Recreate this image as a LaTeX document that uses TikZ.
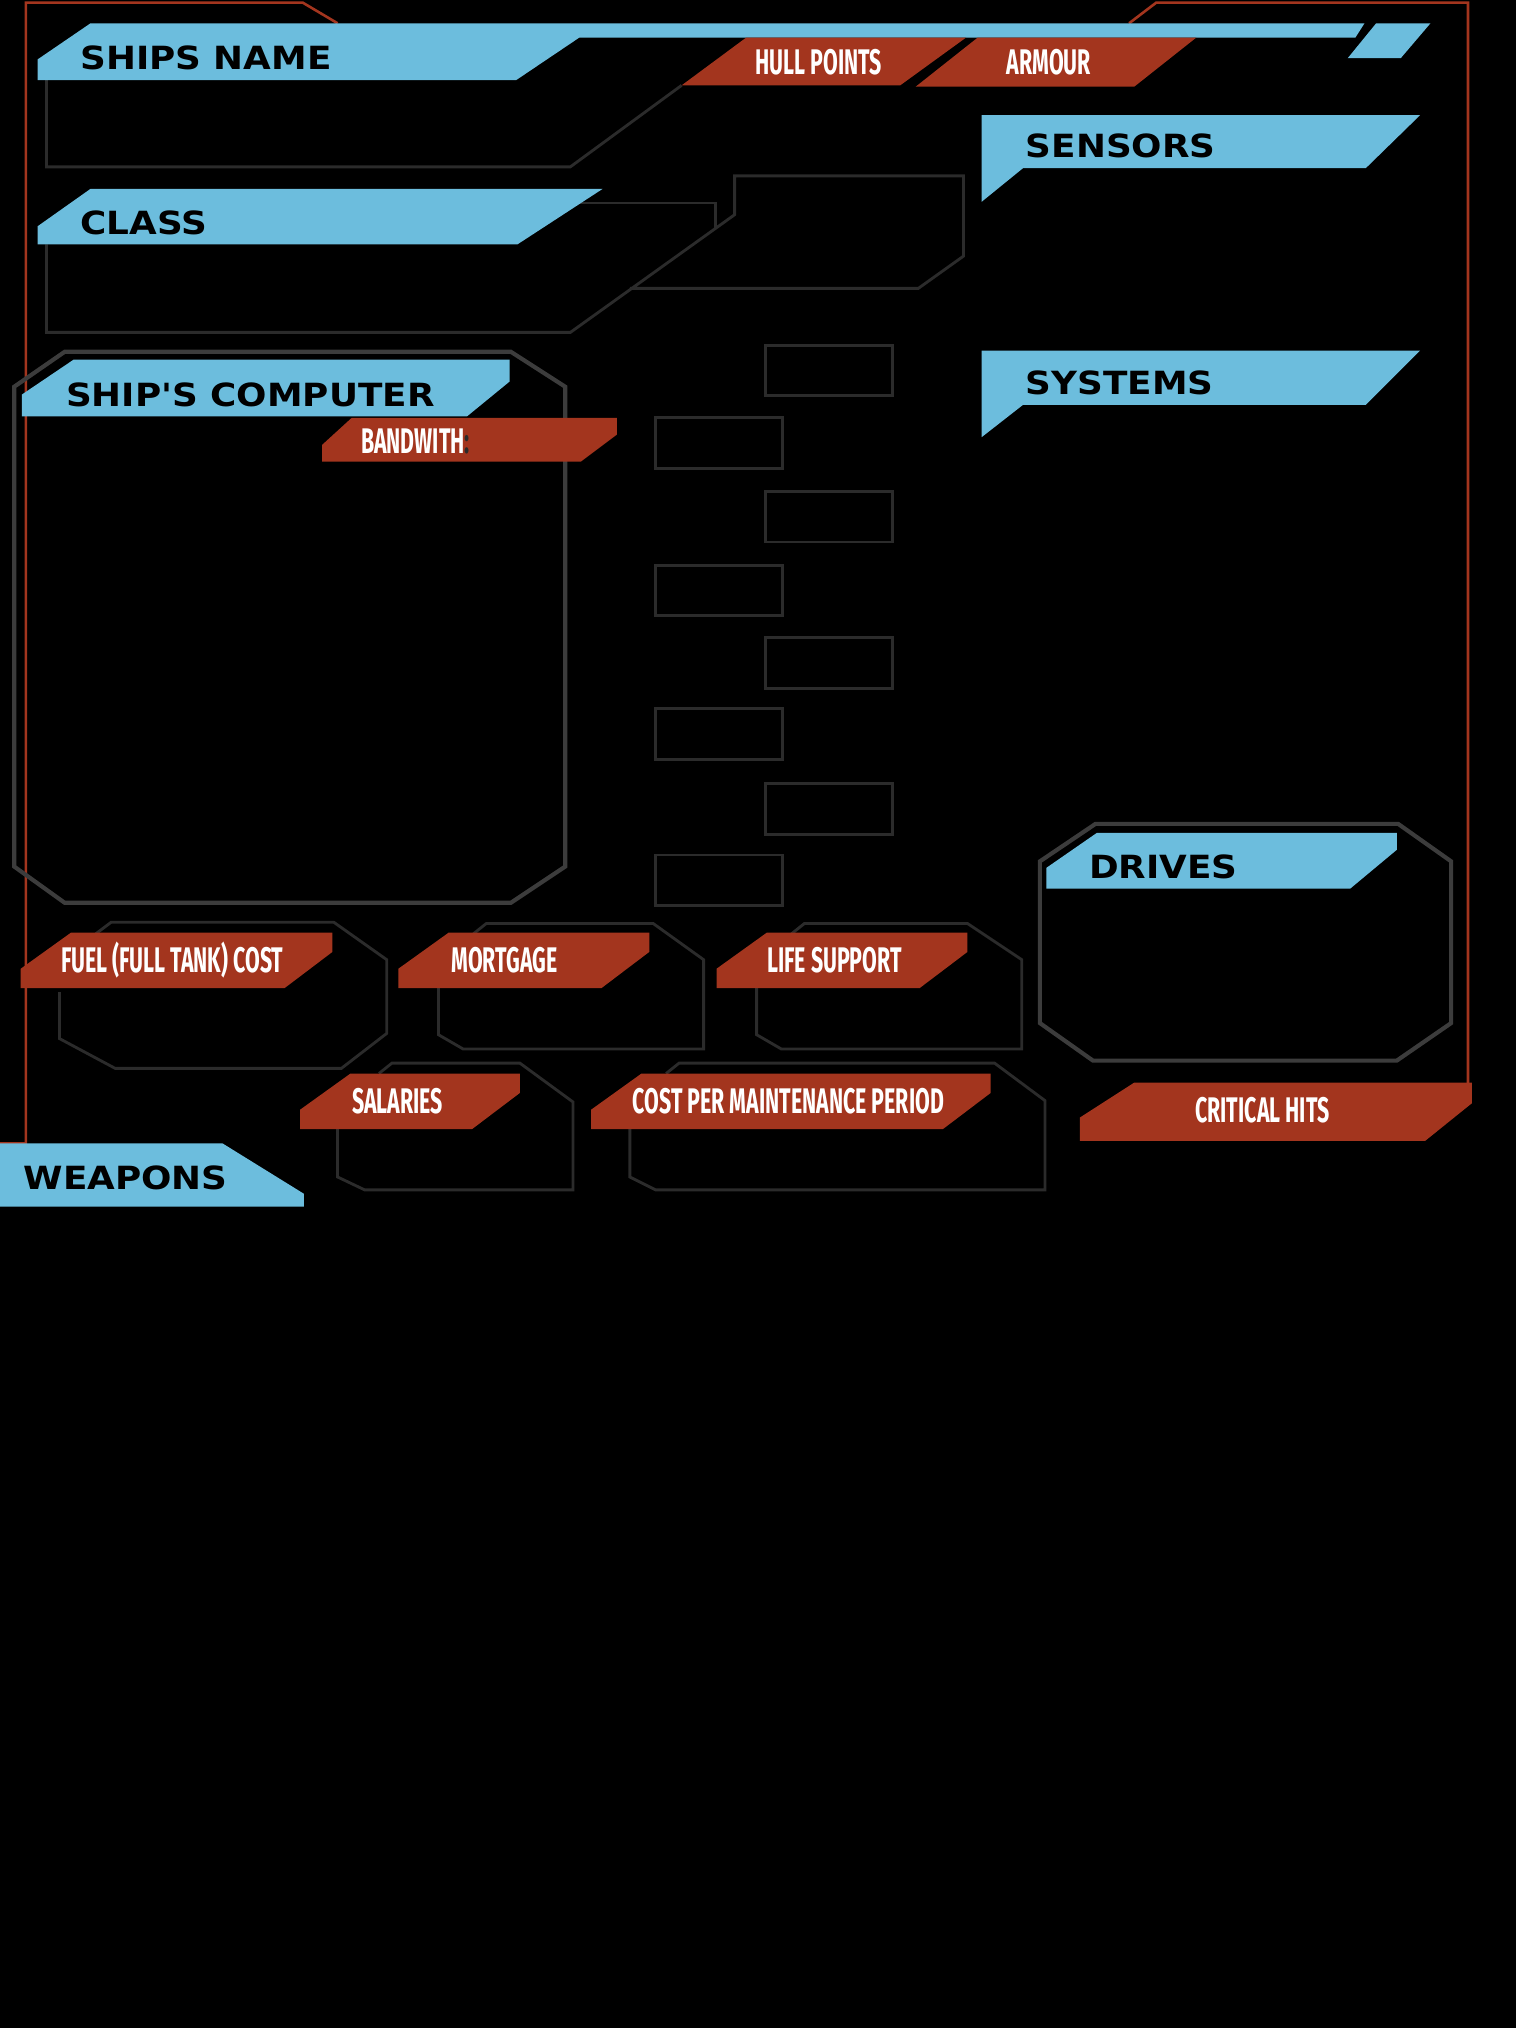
\documentclass[tikz,border=0pt]{standalone}
\usepackage{fontspec}
\usepackage{tikz}
\usetikzlibrary{positioning}
\newfontfamily\headfont{DejaVu Sans}[FakeStretch=1.12]
\newfontfamily\tagfont{Fira Sans}[FakeStretch=0.6]
\definecolor{panelblue}{HTML}{6CBDDD}
\definecolor{tagred}{HTML}{A3351E}
\definecolor{framegrey}{HTML}{3C3C3C}
\definecolor{linegrey}{HTML}{2B2B2B}
\tikzset{bluebar/.style={fill=panelblue}}
\tikzset{redtag/.style={fill=tagred}}
\tikzset{frame/.style={draw=framegrey, line width=3.2pt}}
\tikzset{thinframe/.style={draw=linegrey, line width=2.2pt}}
\tikzset{border/.style={draw=tagred, line width=2pt}}
\tikzset{headtext/.style={font=\headfont\bfseries\fontsize{24.7}{28}\selectfont, text=black, anchor=west, inner sep=0pt}}
\tikzset{tagtext/.style={font=\tagfont\bfseries\fontsize{27.5}{30}\selectfont, text=white, inner sep=0pt}}

\begin{document}
\begin{tikzpicture}[x=1pt,y=-1pt]
  \useasboundingbox (0,0) rectangle (1172,1568);
  \fill[black] (0,0) rectangle (1172,1568);

  % red border
  \draw[border] (0,884) -- (20,884) -- (20,2) -- (234,2) -- (261,18);
  \draw[border] (873,18) -- (894,2) -- (1135,2) -- (1135,838);

  % outlines
  \draw[thinframe] (36,62) -- (36,129) -- (441,129) -- (527,66);
  \draw[thinframe] (36,189) -- (36,257) -- (441,257) -- (568,166) -- (568,136) -- (745,136)
    -- (745,198) -- (710,223) -- (487,223);
  \draw[thinframe] (446,157) -- (553,157) -- (553,176);
  \foreach \y in {267,380,493,606}{
    \draw[thinframe] (592,\y) rectangle (690,\y+39);
  }
  \foreach \y in {323,437,548,661}{
    \draw[thinframe] (507,\y) rectangle (605,\y+39);
  }
  \draw[frame] (50,272) -- (395,272) -- (437,299) -- (437,670) -- (395,698) -- (50,698)
    -- (11,670) -- (11,299) -- cycle;
  \draw[frame] (847,637) -- (1081,637) -- (1122,666) -- (1122,791) -- (1080,820) -- (845,820)
    -- (804,791) -- (804,666) -- cycle;
  \draw[thinframe] (46,767) -- (46,803) -- (89,826) -- (264,826) -- (299,799) -- (299,742)
    -- (258,713) -- (86,713) -- (74,722);
  \draw[thinframe] (339,764) -- (339,800) -- (358,811) -- (544,811) -- (544,742) -- (505,714)
    -- (376,714) -- (366,722);
  \draw[thinframe] (585,764) -- (585,800) -- (604,811) -- (790,811) -- (790,742) -- (748,714)
    -- (622,714) -- (612,722);
  \draw[thinframe] (261,872) -- (261,910) -- (282,920) -- (443,920) -- (443,852) -- (402,822)
    -- (303,822) -- (293,830);
  \draw[thinframe] (487,872) -- (487,910) -- (507,920) -- (808,920) -- (808,851) -- (769,822)
    -- (525,822) -- (515,830);

  % blue bars
  \fill[bluebar] (70,18) -- (1055,18) -- (1048,29) -- (448,29) -- (399,62) -- (29,62) -- (29,46) -- cycle;
  \fill[bluebar] (1064,18) -- (1106,18) -- (1083,45) -- (1042,45) -- cycle;
  \fill[bluebar] (70,146) -- (466,146) -- (400,189) -- (29,189) -- (29,175) -- cycle;
  \fill[bluebar] (57,278) -- (394,278) -- (394,295) -- (361,322) -- (17,322) -- (17,305) -- cycle;
  \fill[bluebar] (759,89) -- (1098,89) -- (1056,130) -- (791,130) -- (759,156) -- cycle;
  \fill[bluebar] (759,271) -- (1098,271) -- (1056,313) -- (791,313) -- (759,338) -- cycle;
  \fill[bluebar] (848,644) -- (1080,644) -- (1080,657) -- (1044,687) -- (809,687) -- (809,671) -- cycle;
  \fill[bluebar] (0,884) -- (172,884) -- (235,923) -- (235,933) -- (0,933) -- cycle;

  \node[headtext] (shipname) at (62,45) {SHIPS NAME};
  \node[headtext] (class) at (62,172) {CLASS};
  \node[headtext] (computer) at (51,305) {SHIP'S COMPUTER};
  \node[headtext] (sensors) at (793,113) {SENSORS};
  \node[headtext] (systems) at (793,296) {SYSTEMS};
  \node[headtext] (drives) at (842,670) {DRIVES};
  \node[headtext] (weapons) at (18,911) {WEAPONS};

  % red tags
  \fill[redtag] (577,29) -- (747,29) -- (696,66) -- (527,66) -- cycle;
  \fill[redtag] (756,29) -- (925,29) -- (877,67) -- (708,67) -- cycle;
  \fill[redtag] (272,323) -- (477,323) -- (477,336) -- (449,357) -- (249,357) -- (249,344) -- cycle;
  \fill[redtag] (877,837) -- (1138,837) -- (1138,853) -- (1102,882) -- (835,882) -- (835,864) -- cycle;
  \node[tagtext] (hull) at (633,48) {HULL POINTS};
  \node[tagtext] (armour) at (811,48) {ARMOUR};
  \node[tagtext, anchor=west] (bandwith) at (279,341) {BANDWITH\textcolor{linegrey}{:}};
  \node[tagtext] (crits) at (976,858) {CRITICAL HITS};
  \foreach \xa/\xb/\ya/\tx/\lab/\txt in {
    16/257/721/47/fuel/{FUEL (FULL TANK) COST},
    308/502/721/349/mortgage/MORTGAGE,
    554/748/721/593/life/{LIFE SUPPORT},
    232/402/830/272/salaries/SALARIES,
    457/766/830/489/cost/{COST PER MAINTENANCE PERIOD}%
  }{
    \fill[redtag] (\xa+39,\ya) -- (\xb,\ya) -- (\xb,\ya+15) -- (\xb-37,\ya+43) -- (\xa,\ya+43)
      -- (\xa,\ya+28) -- cycle;
    \node[tagtext, anchor=west] (\lab) at (\tx,\ya+21.5) {\txt};
  }
\end{tikzpicture}
\end{document}
